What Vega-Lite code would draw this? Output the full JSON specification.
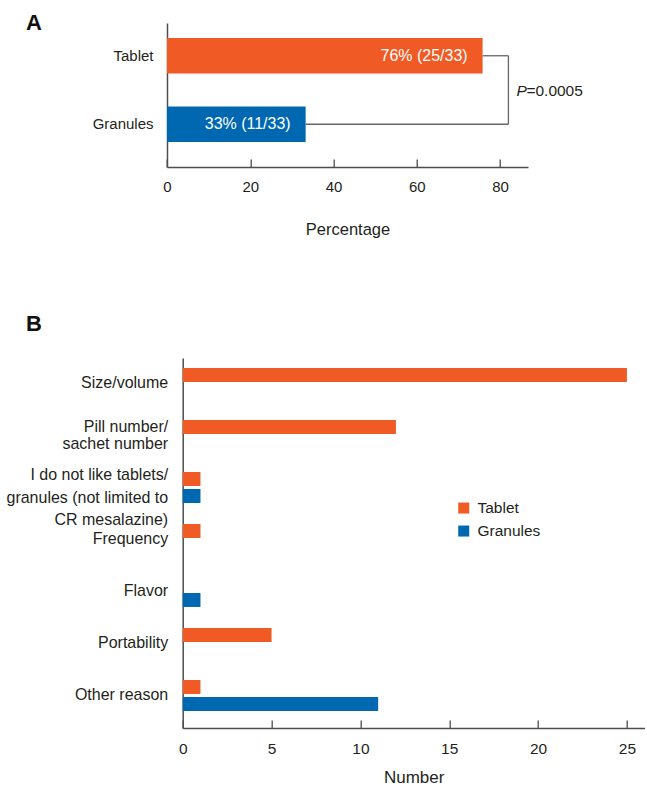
{
  "$schema": "https://vega.github.io/schema/vega-lite/v6.json",
  "padding": {"left": 5.7, "top": 12, "right": 0, "bottom": 0},
  "background": "white",
  "spacing": 75,
  "datasets": {
    "a": [
      {"group": "Tablet", "pct": 75.8, "label": "76% (25/33)"},
      {"group": "Granules", "pct": 33.3, "label": "33% (11/33)"}
    ],
    "bracket": [
      {"group": "Tablet", "x1": 75.8, "x2": 82},
      {"group": "Granules", "x1": 33.3, "x2": 82}
    ],
    "bracketv": [
      {"from": "Tablet", "to": "Granules", "x": 82}
    ],
    "ptext": [
      {"group": "Tablet", "x": 82, "p": "P", "rest": "=0.0005"}
    ],
    "b": [
      {"reason": "Size/volume", "group": "Tablet", "n": 25},
      {"reason": "Pill number/\nsachet number", "group": "Tablet", "n": 12},
      {"reason": "I do not like tablets/\ngranules (not limited to\nCR mesalazine)", "group": "Tablet", "n": 1},
      {"reason": "I do not like tablets/\ngranules (not limited to\nCR mesalazine)", "group": "Granules", "n": 1},
      {"reason": "Frequency", "group": "Tablet", "n": 1},
      {"reason": "Flavor", "group": "Granules", "n": 1},
      {"reason": "Portability", "group": "Tablet", "n": 5},
      {"reason": "Other reason", "group": "Tablet", "n": 1},
      {"reason": "Other reason", "group": "Granules", "n": 11}
    ]
  },
  "resolve": {"scale": {"color": "independent"}, "legend": {"color": "independent"}},
  "vconcat": [
    {
      "width": 345.3,
      "height": 144,
      "title": {"text": "A", "anchor": "start", "frame": "group", "dx": -156.7, "offset": -22.4, "baseline": "middle", "fontSize": 22, "fontWeight": "bold", "font": "Liberation Sans", "color": "#111111"},
      "layer": [
        {
          "data": {"name": "a"},
          "mark": {"type": "bar"},
          "encoding": {
            "y": {
              "field": "group", "type": "nominal", "sort": null,
              "scale": {"domain": ["Tablet", "Granules"], "paddingInner": 0.482, "paddingOuter": 0.292, "align": 0.375},
              "axis": {"title": null, "ticks": false, "offset": 15.7, "labelPadding": 14, "labelFontSize": 15}
            },
            "x": {
              "field": "pct", "type": "quantitative",
              "scale": {"domain": [0, 86.7], "range": [-15.7, 345.3], "nice": false, "zero": true},
              "axis": {"values": [0, 20, 40, 60, 80], "tickSize": -8, "labelPadding": 20.5, "labelFontSize": 15, "labelFlush": false, "title": "Percentage", "titleFontSize": 16.5, "titlePadding": 27}
            },
            "color": {"field": "group", "type": "nominal", "scale": {"domain": ["Tablet", "Granules"], "range": ["#F05A24", "#0067B1"]}, "legend": null}
          }
        },
        {
          "data": {"name": "a"},
          "mark": {"type": "text", "align": "right", "baseline": "middle", "dx": -15, "color": "white", "fontSize": 16, "font": "Liberation Sans"},
          "encoding": {
            "y": {"field": "group", "type": "nominal", "sort": null},
            "x": {"field": "pct", "type": "quantitative"},
            "text": {"field": "label"}
          }
        },
        {
          "data": {"name": "bracket"},
          "mark": {"type": "rule", "color": "#666666", "strokeWidth": 1.3},
          "encoding": {
            "y": {"field": "group", "type": "nominal", "sort": null},
            "x": {"field": "x1", "type": "quantitative"},
            "x2": {"field": "x2"}
          }
        },
        {
          "data": {"name": "bracketv"},
          "mark": {"type": "rule", "color": "#666666", "strokeWidth": 1.3},
          "encoding": {
            "y": {"field": "from", "type": "nominal", "sort": null},
            "y2": {"field": "to"},
            "x": {"field": "x", "type": "quantitative"}
          }
        },
        {
          "data": {"name": "ptext"},
          "mark": {"type": "text", "align": "left", "baseline": "middle", "dx": 8, "dy": 35, "fontStyle": "italic", "fontSize": 15.5, "font": "Liberation Sans", "color": "#231f20"},
          "encoding": {
            "y": {"field": "group", "type": "nominal", "sort": null},
            "x": {"field": "x", "type": "quantitative"},
            "text": {"field": "p"}
          }
        },
        {
          "data": {"name": "ptext"},
          "mark": {"type": "text", "align": "left", "baseline": "middle", "dx": 18, "dy": 35, "fontSize": 15.5, "font": "Liberation Sans", "color": "#231f20"},
          "encoding": {
            "y": {"field": "group", "type": "nominal", "sort": null},
            "x": {"field": "x", "type": "quantitative"},
            "text": {"field": "rest"}
          }
        }
      ]
    },
    {
      "width": 462,
      "height": 370,
      "title": {"text": "B", "anchor": "start", "frame": "group", "dx": -156.7, "offset": 12, "baseline": "middle", "fontSize": 22, "fontWeight": "bold", "font": "Liberation Sans", "color": "#111111"},
      "data": {"name": "b"},
      "mark": {"type": "bar"},
      "encoding": {
        "y": {
          "field": "reason", "type": "nominal",
          "sort": ["Size/volume", "Pill number/\nsachet number", "I do not like tablets/\ngranules (not limited to\nCR mesalazine)", "Frequency", "Flavor", "Portability", "Other reason"],
          "scale": {"paddingInner": 0.404, "paddingOuter": 0.26, "align": 0.37},
          "axis": {
            "title": null, "ticks": false, "labelPadding": 15, "labelFontSize": 16, "labelLimit": 400,
            "labelLineHeight": {"expr": "indexof(datum.value, 'I do not') === 0 ? 22.5 : 17"},
            "labelOffset": {"expr": "indexof(datum.value, 'I do not') === 0 ? -12 : (indexof(datum.value, 'Pill') === 0 ? -8 : 0)"},
            "labelExpr": "split(datum.label, '\\n')"
          }
        },
        "yOffset": {"field": "group", "type": "nominal", "sort": ["Tablet", "Granules"], "scale": {"domain": ["Tablet", "Granules"], "paddingInner": 0.176, "paddingOuter": 0}},
        "x": {
          "field": "n", "type": "quantitative",
          "scale": {"domain": [0, 26], "nice": false},
          "axis": {"values": [0, 5, 10, 15, 20, 25], "tickSize": -8, "labelPadding": 21.8, "labelFontSize": 15.5, "labelFlush": false, "title": "Number", "titleFontSize": 17, "titlePadding": 12}
        },
        "color": {
          "field": "group", "type": "nominal",
          "scale": {"domain": ["Tablet", "Granules"], "range": ["#F05A24", "#0067B1"]},
          "legend": {"title": null, "orient": "none", "legendX": 273.3, "legendY": 142.3, "symbolType": "square", "symbolSize": 121, "symbolStrokeWidth": 0, "labelFontSize": 15.5, "labelFont": "Liberation Sans", "labelColor": "#231f20", "labelOffset": 6, "rowPadding": 6, "padding": 0}
        }
      }
    }
  ],
  "config": {
    "view": {"stroke": null},
    "font": "Liberation Sans",
    "axis": {"grid": false, "domainColor": "#4d4d4d", "tickColor": "#4d4d4d", "domainWidth": 1.5, "tickWidth": 1.3, "labelColor": "#231f20", "titleColor": "#231f20", "labelFont": "Liberation Sans", "titleFont": "Liberation Sans", "titleFontWeight": "normal"}
  }
}
